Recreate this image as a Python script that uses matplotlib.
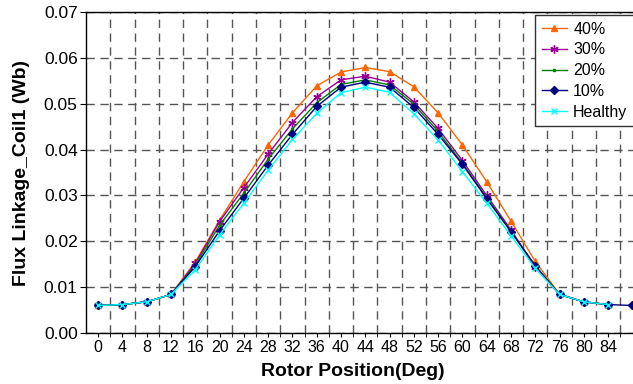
import matplotlib
matplotlib.use("Agg")
from matplotlib import pyplot as plt

# data
deg = [0, 4, 8, 12, 16, 20, 24, 28, 32, 36, 40, 44, 48, 52, 56, 60, 64, 68, 72, 76, 80, 84]
deg_10 = deg + [88]   # 10% series runs one point further

flat_start = [0.0060, 0.0062, 0.0068, 0.0084]
flat_end = [0.0084, 0.0068, 0.0062]

p40 = flat_start + [0.0155, 0.0246, 0.0330, 0.0410, 0.0480, 0.0539, 0.0569, 0.0579, 0.0570,
                    0.0537, 0.0480, 0.0410, 0.0330, 0.0244, 0.0156] + [0.0085, 0.0068, 0.0062]
p30 = flat_start + [0.0152, 0.0243, 0.0317, 0.0390, 0.0459, 0.0515, 0.0552, 0.0560, 0.0547,
                    0.0504, 0.0446, 0.0376, 0.0300, 0.0225, 0.0143] + flat_end
p20 = flat_start + [0.0148, 0.0235, 0.0305, 0.0379, 0.0445, 0.0502, 0.0542, 0.0552, 0.0541,
                    0.0499, 0.0439, 0.0370, 0.0295, 0.0222, 0.0146] + flat_end
p10 = flat_start + [0.0145, 0.0223, 0.0294, 0.0366, 0.0433, 0.0494, 0.0536, 0.0547, 0.0536,
                    0.0492, 0.0433, 0.0368, 0.0293, 0.0221, 0.0147] + flat_end + [0.0060]
healthy = flat_start + [0.0138, 0.0214, 0.0283, 0.0355, 0.0422, 0.0479, 0.0524, 0.0536, 0.0525,
                        0.0478, 0.0421, 0.0352, 0.0283, 0.0212, 0.0141] + flat_end

plt.rcParams['font.family'] = ['Liberation Sans', 'DejaVu Sans']

fig = plt.figure(figsize=(6.33, 3.84), dpi=100)
ax = fig.add_axes([86/633, 1 - 333/384, 1 - 86/633, (333 - 12)/384])

ax.plot(deg, p40, color='#FF6600', lw=1, marker='^', ms=5, label='40%')
ax.plot(deg, p30, color='#990099', lw=1, marker=(6, 2, 0), ms=6, mew=1, label='30%')
ax.plot(deg, p20, color='#008000', lw=1, marker='s', ms=2, label='20%')
ax.plot(deg_10, p10, color='#000080', lw=1, marker='D', ms=4, label='10%')
ax.plot(deg, healthy, color='#00FFFF', lw=1, marker='x', ms=5, mew=1, label='Healthy')

ax.set_xlim(-2, 88.1)
ax.set_ylim(0, 0.07)
ax.set_xticks(deg)
ax.set_xticks([d + 2 for d in deg], minor=True)
ax.set_yticks([i/100 for i in range(8)])
ax.set_yticklabels(['%.2f' % (i/100) for i in range(8)])
ax.tick_params(axis='both', which='both', direction='out', pad=2)
ax.tick_params(axis='x', which='major', length=3, labelsize=11.5)
ax.tick_params(axis='x', which='minor', length=3)
ax.tick_params(axis='y', length=4, labelsize=12.5)

ax.grid(which='minor', axis='x', color='#555555', lw=1, linestyle=(0, (6, 4)))
ax.grid(which='major', axis='y', color='#555555', lw=1, linestyle=(0, (6, 4)))
ax.grid(which='major', axis='x', visible=False)
ax.spines['right'].set_visible(False)
for s in ['top', 'left', 'bottom']:
  ax.spines[s].set_linewidth(1)

ax.set_xlabel('Rotor Position(Deg)', fontsize=14, fontweight='bold')
ax.xaxis.set_label_coords(0.488, -0.092)
ax.set_ylabel('Flux Linkage_Coil1 (Wb)', fontsize=14, fontweight='bold', labelpad=10)

leg = ax.legend(loc='upper left', bbox_to_anchor=(535/633, 1 - 15/384),
                bbox_transform=fig.transFigure, borderaxespad=0, fontsize=11.5,
                fancybox=False, framealpha=1, edgecolor='#333333',
                handlelength=1.6, handletextpad=0.37, labelspacing=0.36, borderpad=0.42)
leg.get_frame().set_linewidth(1)

fig.savefig('out.png', dpi=100)
